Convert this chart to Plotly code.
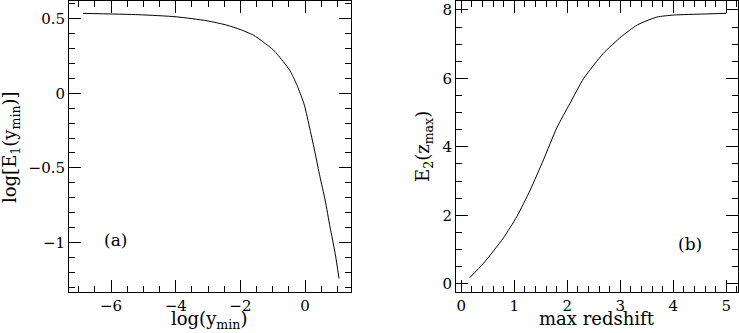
import numpy as np
import plotly.graph_objects as go

# Panel (a): log[E1(y_min)] vs log(y_min)
log_ymin = [-6.87, -5.14, -3.99, -3.03, -2.42, -2.01, -1.60, -1.30, -0.98, -0.67,
            -0.46, -0.26, -0.15, -0.02, 0.15, 0.31, 0.46, 0.62, 0.77, 0.93, 1.05]
log_E1 = [0.537, 0.528, 0.514, 0.487, 0.458, 0.429, 0.391, 0.346, 0.291, 0.212,
          0.150, 0.060, 0.000, -0.080, -0.240, -0.400, -0.559, -0.716, -0.895, -1.074, -1.242]

# Panel (b): E2(z_max) vs max redshift
z_max = [0.16, 0.42, 0.79, 1.05, 1.30, 1.55, 1.80, 2.05, 2.31, 2.68, 3.02, 3.32,
         3.69, 4.01, 4.58, 5.00]
E2 = [0.18, 0.60, 1.33, 1.97, 2.74, 3.62, 4.55, 5.27, 6.00, 6.73, 7.22, 7.56,
      7.79, 7.85, 7.88, 7.90]

FONT = "DejaVu Serif"
W, H = 739, 333
ML, MR, MT, MB = 69, 1, 1, 41
PW = W - ML - MR
PH = H - MT - MB

XR1, YR1 = [-7.3, 1.42], [-1.333, 0.62]
XR2, YR2 = [-0.1, 5.22], [-0.24, 8.26]


def px2paper_x(px):
    return (px - ML) / PW


def px2paper_y(py):
    return (H - MB - py) / PH


fig = go.Figure()
fig.add_trace(go.Scatter(x=log_ymin, y=log_E1, mode="lines",
                         line=dict(color="black", width=1, shape="spline", smoothing=0.6),
                         xaxis="x", yaxis="y", showlegend=False, hoverinfo="skip"))
fig.add_trace(go.Scatter(x=z_max, y=E2, mode="lines",
                         line=dict(color="black", width=1, shape="spline", smoothing=0.6),
                         xaxis="x2", yaxis="y2", showlegend=False, hoverinfo="skip"))
# invisible carriers for the minor-tick overlay axes
fig.add_trace(go.Scatter(x=log_ymin, y=log_E1, mode="markers", marker=dict(opacity=0),
                         xaxis="x3", yaxis="y3", showlegend=False, hoverinfo="skip"))
fig.add_trace(go.Scatter(x=z_max, y=E2, mode="markers", marker=dict(opacity=0),
                         xaxis="x4", yaxis="y4", showlegend=False, hoverinfo="skip"))


def axis(rng, dtick, domain=None, anchor=None):
    d = dict(range=rng, dtick=dtick, tick0=0, showgrid=False, zeroline=False,
             showline=True, linecolor="black", linewidth=1, mirror="allticks",
             ticks="inside", ticklen=12, tickwidth=1, tickcolor="black",
             ticklabeloverflow="allow",
             tickfont=dict(family=FONT, size=15, color="black"))
    if domain is not None:
        d["domain"] = domain
    if anchor is not None:
        d["anchor"] = anchor
    return d


def minor_axis(rng, step, overlaying, anchor):
    vals = list(np.arange(np.ceil(rng[0] / step) * step, rng[1] + 1e-9, step))
    return dict(range=rng, tickmode="array", tickvals=vals, showticklabels=False,
                ticks="inside", ticklen=6, tickwidth=1, tickcolor="black",
                mirror="allticks", showline=False, showgrid=False, zeroline=False,
                overlaying=overlaying, anchor=anchor)


fig.update_layout(
    width=W, height=H,
    margin=dict(l=ML, r=MR, t=MT, b=MB),
    plot_bgcolor="white", paper_bgcolor="white",
    xaxis=axis(XR1, 2, domain=[0, px2paper_x(351)], anchor="y"),
    yaxis=axis(YR1, 0.5, anchor="x"),
    xaxis2=axis(XR2, 1, domain=[px2paper_x(456), 1], anchor="y2"),
    yaxis2=axis(YR2, 2, anchor="x2"),
    xaxis3=minor_axis(XR1, 0.5, "x", "y3"),
    yaxis3=minor_axis(YR1, 0.1, "y", "x3"),
    xaxis4=minor_axis(XR2, 0.2, "x2", "y4"),
    yaxis4=minor_axis(YR2, 0.5, "y2", "x4"),
    font=dict(family=FONT, color="black"),
    showlegend=False,
)

ann = [
    dict(text="log(y<sub>min</sub>)", x=px2paper_x(209), y=px2paper_y(320), angle=0),
    dict(text="max redshift", x=px2paper_x(597), y=px2paper_y(318), angle=0),
    dict(text="log[E<sub>1</sub>(y<sub>min</sub>)]", x=px2paper_x(11), y=px2paper_y(147), angle=-90),
    dict(text="E<sub>2</sub>(z<sub>max</sub>)", x=px2paper_x(424), y=px2paper_y(147), angle=-90),
]
for a in ann:
    fig.add_annotation(text=a["text"], x=a["x"], y=a["y"], xref="paper", yref="paper",
                       textangle=a["angle"], showarrow=False, xanchor="center",
                       yanchor="middle", font=dict(family=FONT, size=18, color="black"))

fig.add_annotation(text="(a)", x=-5.87, y=-0.985, xref="x", yref="y", showarrow=False,
                   font=dict(family=FONT, size=17, color="black"))
fig.add_annotation(text="(b)", x=4.31, y=1.16, xref="x2", yref="y2", showarrow=False,
                   font=dict(family=FONT, size=17, color="black"))

fig.write_html("out.html", config={"displayModeBar": False},
               post_script="document.body.style.margin='0';document.body.style.overflow='hidden';")
